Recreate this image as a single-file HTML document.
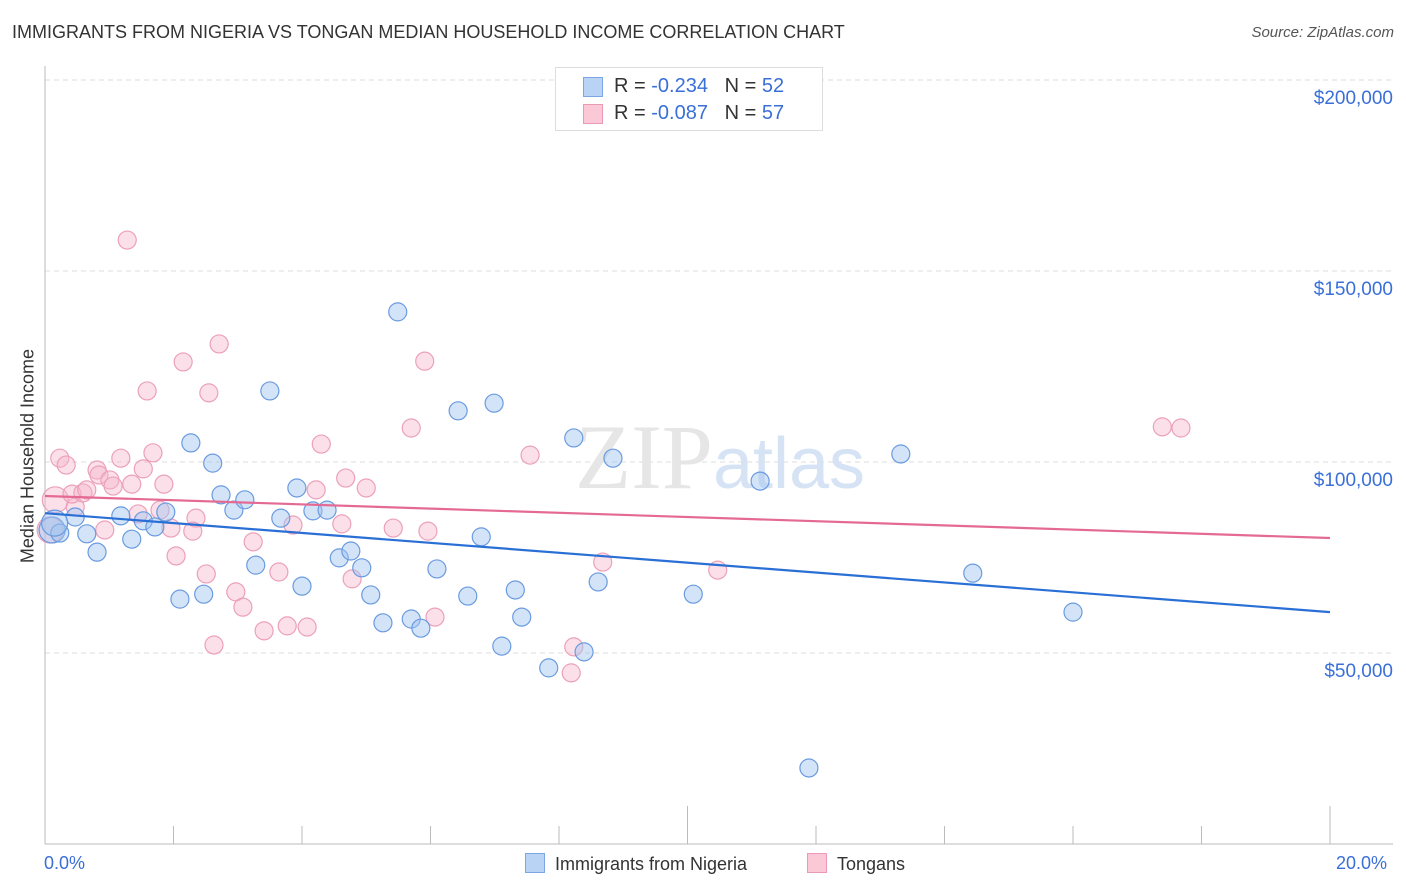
<!DOCTYPE html>
<html><head><meta charset="utf-8">
<style>
body{margin:0;background:#fff;font-family:"Liberation Sans",sans-serif;}
#wrap{position:relative;width:1406px;height:892px;overflow:hidden;}
.t{position:absolute;white-space:nowrap;}
</style></head>
<body>
<div id="wrap">
<div class="t" style="left:12px;top:22px;font-size:18px;color:#333;">IMMIGRANTS FROM NIGERIA VS TONGAN MEDIAN HOUSEHOLD INCOME CORRELATION CHART</div>
<div class="t" style="right:12px;top:24px;font-size:15px;color:#555;font-style:italic;">Source: ZipAtlas.com</div>
<div class="t" style="left:28px;top:456px;font-size:18px;color:#333;transform:translate(-50%,-50%) rotate(-90deg);">Median Household Income</div>
<svg id="plot" width="1406" height="892" style="position:absolute;left:0;top:0"></svg>
<div class="t" style="left:555px;top:67px;width:266px;height:62px;border:1px solid #ddd;background:#fff;font-size:20px;">
  <div style="position:absolute;left:27px;top:9px;width:18px;height:18px;background:#b9d3f5;border:1px solid #7aa7e4;"></div>
  <div style="position:absolute;left:58px;top:7px;color:#333;">R = <span style="color:#3a6fd8">-0.234</span>&nbsp;&nbsp;&nbsp;N = <span style="color:#3a6fd8">52</span></div>
  <div style="position:absolute;left:27px;top:36px;width:18px;height:18px;background:#fbc8d7;border:1px solid #eb9ab5;"></div>
  <div style="position:absolute;left:58px;top:34px;color:#333;">R = <span style="color:#3a6fd8">-0.087</span>&nbsp;&nbsp;&nbsp;N = <span style="color:#3a6fd8">57</span></div>
</div>
<div class="t" style="left:44px;top:853px;font-size:18px;color:#3a6fd8;">0.0%</div>
<div class="t" style="left:1336px;top:853px;font-size:18px;color:#3a6fd8;">20.0%</div>
<div class="t" style="left:525px;top:853px;font-size:18px;color:#333;"><span style="display:inline-block;width:18px;height:18px;background:#b9d3f5;border:1px solid #7aa7e4;vertical-align:-3px;margin-right:10px;"></span>Immigrants from Nigeria</div>
<div class="t" style="left:807px;top:853px;font-size:18px;color:#333;"><span style="display:inline-block;width:18px;height:18px;background:#fbc8d7;border:1px solid #eb9ab5;vertical-align:-3px;margin-right:10px;"></span>Tongans</div>
</div>
<script>
const yTicks=[50000,100000,150000,200000];
const yTickLabels=["$50,000","$100,000","$150,000","$200,000"];
const xTicks=[0,2,4,6,8,10,12,14,16,18,20];
const blueX=[0.11,0.23,0.47,0.65,0.81,1.18,1.35,1.53,1.71,1.88,2.10,2.27,2.47,2.61,2.74,2.94,3.11,3.28,3.50,3.67,3.92,4.00,4.17,4.39,4.58,4.76,4.93,5.07,5.26,5.49,5.70,5.85,6.10,6.43,6.58,6.79,6.99,7.11,7.32,7.42,7.84,8.23,8.39,8.61,8.84,10.09,11.13,11.89,13.32,14.44,16.00,0.15];
const blueY=[82.2,81.4,85.6,81.2,76.4,85.9,79.8,84.6,83.0,86.9,64.1,105.0,65.4,99.7,91.4,87.4,90.1,73.0,118.6,85.3,93.2,67.5,87.2,87.4,74.9,76.7,72.3,65.2,57.9,139.3,58.9,56.5,72.0,113.4,64.9,80.4,115.4,51.8,66.5,59.4,46.1,106.3,50.3,68.6,101.0,65.4,95.0,19.9,102.1,70.9,60.7,84.0];
const pinkX=[0.08,0.16,0.23,0.33,0.47,0.42,0.59,0.65,0.81,0.84,0.93,1.01,1.06,1.18,1.28,1.35,1.45,1.53,1.59,1.68,1.79,1.85,1.96,2.04,2.15,2.35,2.30,2.51,2.55,2.63,2.71,2.97,3.08,3.24,3.41,3.64,3.77,3.86,4.08,4.22,4.30,4.68,4.62,4.78,5.00,5.42,5.70,5.91,5.96,6.07,7.55,8.23,8.19,8.68,10.47,17.39,17.68];
const pinkY=[82.2,90.1,101.0,99.2,88.2,91.6,91.9,92.7,97.9,96.6,82.2,95.3,93.7,101.0,158.1,94.2,86.4,98.2,118.6,102.4,87.4,94.2,82.7,75.4,126.2,85.3,81.9,70.7,118.1,52.1,130.9,66.0,62.0,79.1,55.8,71.2,57.1,83.5,56.8,92.7,104.7,95.8,83.8,69.4,93.2,82.7,108.9,126.4,81.9,59.4,101.8,51.6,44.8,73.8,71.7,109.2,108.9];
const blueTrend=[86.6,60.7];
const pinkTrend=[91.1,80.1];

const svg=document.getElementById('plot');
const NS='http://www.w3.org/2000/svg';
const X0=45,X1=1330,Y0=844,PX_PER_K=191/50;
function sx(v){return X0+(v/20)*(X1-X0);}
function sy(k){return Y0-k*PX_PER_K;}
function mk(tag,attrs){const e=document.createElementNS(NS,tag);for(const k in attrs)e.setAttribute(k,attrs[k]);svg.appendChild(e);return e;}

yTicks.forEach((v,i)=>{
  const y=sy(v/1000);
  const g=mk('line',{x1:X0,x2:1393,y1:y,y2:y,stroke:'#ddd','stroke-dasharray':'5,4'});
  
  
  const t=mk('text',{x:1393,y:y+24,'text-anchor':'end','font-size':'19','fill':'#3a6fd8','font-family':'Liberation Sans, sans-serif'});
  t.textContent=yTickLabels[i];
  
  
});
const ax=mk('line',{x1:X0,x2:X0,y1:66,y2:Y0,stroke:'#bbb'});


const bx=mk('line',{x1:X0,x2:1393,y1:Y0,y2:Y0,stroke:'#bbb'});


xTicks.forEach(v=>{
  const x=sx(v);
  const tk=mk('line',{x1:x,x2:x,y1:(v%10===0&&v>0)?806:826,y2:Y0,stroke:'#bbb'});
  
  
});
const wm=mk('text',{x:720,y:488,'text-anchor':'middle','font-size':'92','fill':'#e6e6e6','font-family':'Liberation Serif, serif'});
wm.innerHTML='ZIP<tspan fill="#d6e3f5" font-family="Liberation Sans, sans-serif" font-size="72">atlas</tspan>';



function pts(xs,ys,fill,stroke,name){
  xs.forEach((x,i)=>{
    const c=mk('circle',{cx:sx(x),cy:sy(ys[i]),r:(x<0.2?13:9),fill:fill,stroke:stroke,'stroke-width':1.2});
    
    
  });
}
pts(pinkX,pinkY,'rgba(246,182,202,0.42)','#eca0ba','tongans-point');
pts(blueX,blueY,'rgba(160,196,240,0.45)','#6a9be0','nigeria-point');
const bl=mk('line',{x1:sx(0),y1:sy(blueTrend[0]),x2:sx(20),y2:sy(blueTrend[1]),stroke:'#2a6fd6','stroke-width':2.2});


const pl=mk('line',{x1:sx(0),y1:sy(pinkTrend[0]),x2:sx(20),y2:sy(pinkTrend[1]),stroke:'#e46a93','stroke-width':2.2});


</script>
</body></html>
